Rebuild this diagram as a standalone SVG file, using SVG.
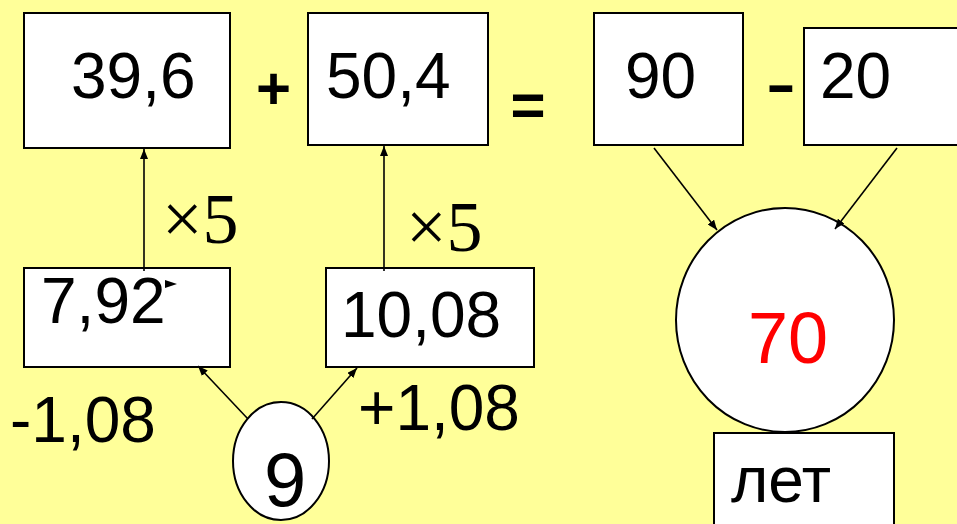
<svg xmlns="http://www.w3.org/2000/svg" width="957" height="524" viewBox="0 0 957 524">
<style>
.box{fill:#fff;stroke:#000;stroke-width:2}
.t{font-family:"Liberation Sans",Arial,sans-serif;font-size:64px;fill:#000}
.op{font-family:"Liberation Sans",Arial,sans-serif;font-weight:bold;font-size:60px;fill:#000;text-anchor:middle}
.s{font-family:"Liberation Serif","Times New Roman",serif;font-size:72px;fill:#000}
.ln{stroke:#000;stroke-width:1.6;fill:none;marker-end:url(#ah)}
</style>
<defs>
<marker id="ah" viewBox="0 0 10 8" refX="10" refY="4" markerWidth="10" markerHeight="8" markerUnits="userSpaceOnUse" orient="auto">
<path d="M0,0 L10,4 L0,8 Z" fill="#000"/>
</marker>
</defs>
<rect width="957" height="524" fill="#FFFF99"/>
<g id="n396"><rect class="box" x="24" y="13" width="206" height="135"/><text class="t" x="71" y="98">39,6</text></g>
<g id="plus"><text class="op" x="273.5" y="108.5">+</text></g>
<g id="n504"><rect class="box" x="308" y="13" width="180" height="132"/><text class="t" x="326" y="98">50,4</text></g>
<g id="eq"><text class="op" x="528" y="124.5">=</text></g>
<g id="n90"><rect class="box" x="594" y="13" width="149" height="132"/><text class="t" x="625" y="98">90</text></g>
<g id="minus"><text class="op" transform="translate(781 103) scale(1.6 1)" x="0" y="0" style="font-size:56px">-</text></g>
<g id="n20"><rect class="box" x="804" y="28" width="160" height="117"/><text class="t" x="820" y="98">20</text></g>
<g id="n792"><rect class="box" x="24" y="268" width="206" height="99"/><text class="t" x="41" y="323">7,92</text></g>
<g id="n1008"><rect class="box" x="326" y="268" width="208" height="99"/><text class="t" x="341" y="337">10,08</text></g>
<g id="n9"><ellipse cx="281" cy="461" rx="48" ry="59" fill="#fff" stroke="#000" stroke-width="2"/><text class="t" x="264" y="506" style="font-size:76px">9</text></g>
<g id="n70"><ellipse cx="785" cy="320" rx="109" ry="112" fill="#fff" stroke="#000" stroke-width="2"/><text class="t" x="748" y="363" style="font-size:72px;fill:#ff0000">70</text></g>
<g id="nlet"><rect class="box" x="714" y="433" width="180" height="100"/><text class="t" x="731" y="502">лет</text></g>
<g id="labels">
<text class="s" x="162" y="243">×5</text>
<text class="s" x="406" y="251">×5</text>
<text class="t" x="10" y="442">-1,08</text>
<text class="t" x="358" y="430">+1,08</text>
</g>
<g id="connectors">
<line class="ln" x1="144" y1="271" x2="144" y2="149"/>
<line class="ln" x1="384" y1="271" x2="384" y2="146"/>
<line class="ln" x1="248" y1="419" x2="198" y2="366"/>
<line class="ln" x1="312" y1="419" x2="357" y2="368"/>
<line class="ln" x1="654" y1="148" x2="717" y2="230"/>
<line class="ln" x1="897" y1="148" x2="835" y2="229"/>
<path d="M165,280 L177,284 L165,288 Z" fill="#000"/>
</g>
</svg>
